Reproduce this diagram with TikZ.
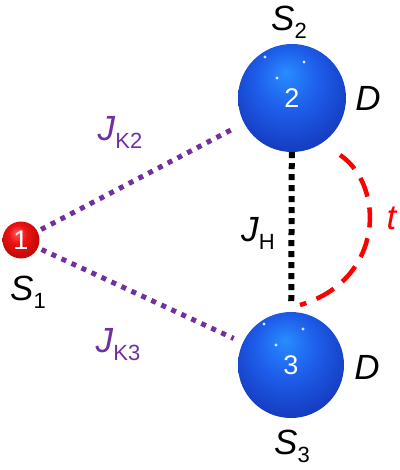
\documentclass[tikz,border=0pt]{standalone}
\usepackage{fontspec}
\setmainfont{Liberation Sans}
\usepackage{tikz}
\usetikzlibrary{positioning,calc}
\definecolor{kpurple}{RGB}{112,48,160}
\definecolor{hopred}{RGB}{255,0,0}
\definecolor{bluelight}{RGB}{40,140,255}
\definecolor{bluemid}{RGB}{30,95,235}
\definecolor{bluedark}{RGB}{18,45,175}
\definecolor{redlight}{RGB}{255,90,90}
\definecolor{redmid}{RGB}{235,20,20}
\definecolor{reddark}{RGB}{175,0,0}
\pgfdeclareradialshading{bluesphere}{\pgfpoint{-3bp}{12bp}}{%
  color(0bp)=(bluelight); color(14bp)=(bluemid);
  color(36bp)=(bluedark); color(50bp)=(bluedark)}
\pgfdeclareradialshading{redsphere}{\pgfpoint{-6bp}{10bp}}{%
  color(0bp)=(redlight); color(12bp)=(redmid);
  color(36bp)=(reddark); color(50bp)=(reddark)}
\newcommand\sublab[2]{\textit{#1}\raisebox{-8pt}{\fontsize{22}{22}\selectfont #2}}

\begin{document}
\begin{tikzpicture}[
  x=1pt, y=-1pt,
  every node/.style={font=\fontsize{35}{40}\selectfont, inner sep=0pt},
  ball/.style={circle, text=white, font=\fontsize{27}{30}\selectfont},
  kbond/.style={kpurple, line width=5pt, dash pattern=on 5pt off 6pt},
  hbond/.style={black, line width=6pt, dash pattern=on 6pt off 5pt},
  hop/.style={hopred, line width=4.5pt, dash pattern=on 20pt off 11pt},
  speck/.style={fill=white, opacity=0.85}
]
\useasboundingbox (0,0) rectangle (399,470);

% sites
\node[ball, shading=redsphere, minimum size=37pt] (b1) at (21,240) {1};
\node[ball, shading=bluesphere, minimum size=108pt] (b2) at (292,98) {2};
\node[ball, shading=bluesphere, minimum size=106pt] (b3) at (291,365) {3};

% small highlights
\fill[speck] ($(b2)+(-27,-41)$) circle (1.6);
\fill[speck] ($(b2)+(12,-36)$) circle (1.6);
\fill[speck] ($(b2)+(-15,-20)$) circle (1.6);
\fill[speck] ($(b3)+(-27,-41)$) circle (1.6);
\fill[speck] ($(b3)+(12,-36)$) circle (1.6);
\fill[speck] ($(b3)+(-15,-20)$) circle (1.6);

% labels
\node (s1) at (28,292) {\sublab{S}{1}};
\node (s2) at (289,22) {\sublab{S}{2}};
\node (s3) at (292,446) {\sublab{S}{3}};
\node (d2) at (368,98) {\textit{D}};
\node (d3) at (367,367) {\textit{D}};
\node[text=kpurple] (jk2) at (120,132) {\sublab{J}{K2}};
\node[text=kpurple] (jk3) at (118,345) {\sublab{J}{K3}};
\node (jh) at (258,233) {\sublab{J}{H}};
\node[text=hopred] (t) at (392,218) {\textit{t}};

% bonds
\draw[kbond, shorten <=4pt, shorten >=13pt] (b1) -- (b2);
\draw[kbond, shorten <=4pt, shorten >=10pt] (b1) -- (b3);
\draw[hbond, shorten >=6pt] (b2) -- (b3);

% hopping arc
\coordinate (hopa) at (340,155);
\coordinate (hopb) at (300,305);
\draw[hop] (hopa) .. controls (385,185) and (385,280) .. (hopb);

\end{tikzpicture}
\end{document}
